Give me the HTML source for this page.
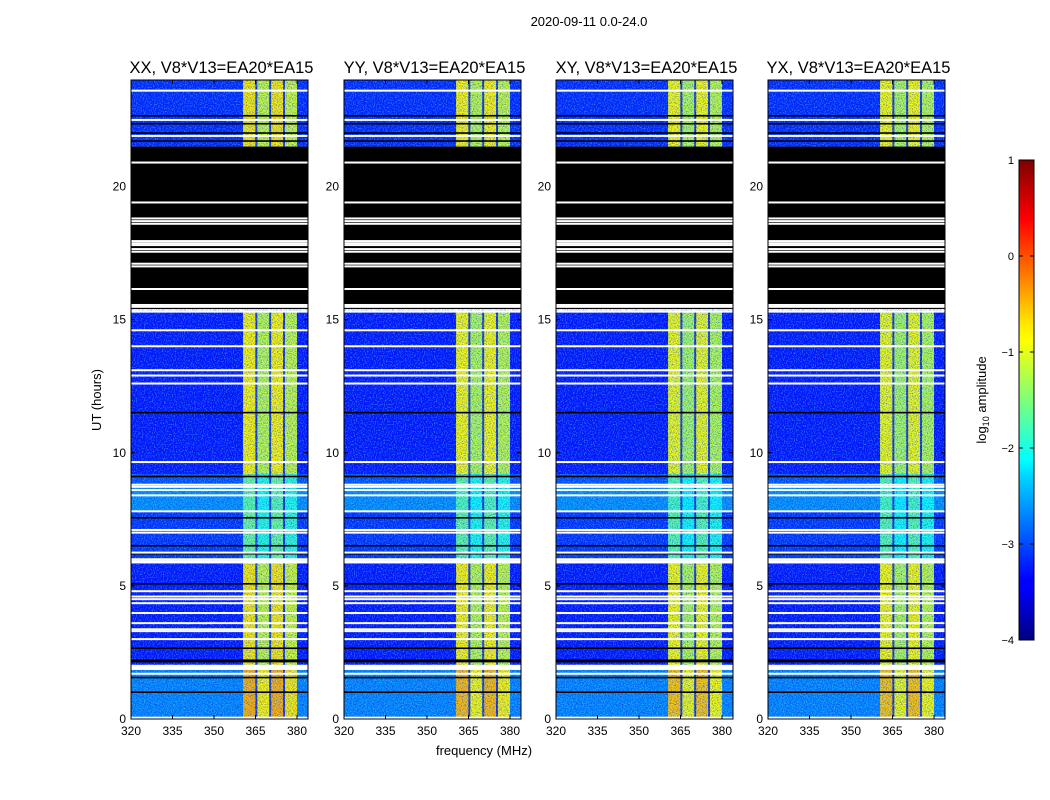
<!DOCTYPE html>
<html><head><meta charset="utf-8">
<style>
html,body{margin:0;padding:0;background:#fff;}
svg{display:block;font-family:"Liberation Sans",sans-serif;}
</style></head>
<body>
<svg id="fig" width="1050" height="800" viewBox="0 0 1050 800">
<defs>
<filter id="speck" x="0" y="0" width="100%" height="100%">
<feTurbulence type="fractalNoise" baseFrequency="0.9 0.7" numOctaves="1" seed="3"/>
<feColorMatrix type="matrix" values="0 0 0 0 0.15  0 0 0 0 0.75  0 0 0 0 1  3.2 0 0 0 -1.5"/>
</filter>
<filter id="dark" x="0" y="0" width="100%" height="100%">
<feTurbulence type="fractalNoise" baseFrequency="0.8 0.9" numOctaves="1" seed="7"/>
<feColorMatrix type="matrix" values="0 0 0 0 0  0 0 0 0 0  0 0 0 0 0.6  3 0 0 0 -1.3"/>
</filter>
<linearGradient id="jet" x1="0" y1="1" x2="0" y2="0">
<stop offset="0" stop-color="#00007f"/><stop offset="0.11" stop-color="#0000ff"/>
<stop offset="0.125" stop-color="#0000ff"/><stop offset="0.34" stop-color="#00d4ff"/>
<stop offset="0.375" stop-color="#00ffff"/><stop offset="0.5" stop-color="#7dff7a"/>
<stop offset="0.625" stop-color="#ffff00"/><stop offset="0.66" stop-color="#ffe600"/>
<stop offset="0.875" stop-color="#ff0000"/><stop offset="1" stop-color="#7f0000"/>
</linearGradient>
</defs>
<text x="589" y="26" font-size="13" text-anchor="middle">2020-09-11 0.0-24.0</text>
<text x="484" y="755" font-size="13" text-anchor="middle">frequency (MHz)</text>
<text transform="translate(101,400) rotate(-90)" font-size="13" text-anchor="middle">UT (hours)</text>
<g id="panels"></g>
<g id="cbar">
<rect x="1019" y="160" width="15" height="480" fill="url(#jet)" stroke="#000" stroke-width="1"/>
<text transform="translate(986,400) rotate(-90)" font-size="13" text-anchor="middle">log<tspan font-size="9" dy="3">10</tspan><tspan dy="-3"> amplitude</tspan></text>
</g>
</svg>
<script>
const panelTitles = ["XX, V8*V13=EA20*EA15","YY, V8*V13=EA20*EA15","XY, V8*V13=EA20*EA15","YX, V8*V13=EA20*EA15"];
const xTicks = [320,335,350,365,380];
const yTicks = [0,5,10,15,20];
const cbTicks = [1,0,-1,-2,-3,-4];
const cbLabels = ["1","0","\u22121","\u22122","\u22123","\u22124"];
const subBands = [[360.5,365.3],[365.3,370.3],[370.3,375.3],[375.3,380]];
const subOffset = [0,-0.35,0,-0.3];
// [startHour, endHour, bandLevel, bgLevel]
const timeSegs = [[0,1.9,-0.6,-2.7],[1.9,5.9,-0.9,-3.25],[5.9,7.8,-1.7,-3.1],[7.8,8.75,-1.8,-2.65],[8.75,9.2,-1.7,-2.95],[9.2,15.3,-0.95,-3.25],[21.5,24,-0.9,-3.15]];
const panelBandBoost = [0.1,0.05,0,0];
const blackBlock = [15.4,21.5];
const whiteRows = [23.6,22.5,21.9,20.9,19.4,18.8,18.7,18.6,17.95,17.87,17.8,17.65,17.55,17.1,17.0,16.15,15.55,15.48,15.3,14.6,14.0,13.1,12.9,12.6,9.65,8.8,8.72,8.6,8.4,7.8,7.1,7.0,6.25,6.0,5.93,5.88,4.8,4.6,4.5,4.35,3.98,3.6,3.37,3.3,3.0,2.0,1.95,1.88,1.7,0.05];
const blackRows = [22.65,22.35,22.0,21.7,11.5,9.1,7.55,6.5,6.2,5.07,2.65,2.2,2.15,1.55,1.0];
const panelX = [131,344,556,768];
const PW=177, Ptop=80, Pbot=719;
const NS="http://www.w3.org/2000/svg";
function yOf(h){return Pbot-(h/24)*(Pbot-Ptop);}
function xOf(x0,f){return x0+(f-320)*2.767;}
function jet(v){const t=Math.max(0,Math.min(1,(v+4)/5));const c=a=>Math.round(255*Math.max(0,Math.min(1,1.5-Math.abs(4*t-a))));return `rgb(${c(3)},${c(2)},${c(1)})`;}
function mk(tag,attrs,parent){const e=document.createElementNS(NS,tag);for(const k in attrs)e.setAttribute(k,attrs[k]);parent.appendChild(e);return e;}
const root=document.getElementById('panels');
panelX.forEach((x0,pi)=>{
  const g=mk('g',{},root);
  
  
  const cid='clip'+pi;
  const cp=mk('clipPath',{id:cid},g);mk('rect',{x:x0,y:Ptop,width:PW,height:Pbot-Ptop},cp);
  const inner=mk('g',{'clip-path':`url(#${cid})`},g);
  timeSegs.forEach(s=>{
    const y1=yOf(s[1]),y0=yOf(s[0]);
    const r=mk('rect',{x:x0,y:y1,width:PW,height:y0-y1,fill:jet(s[3])},inner);
    
    
    subBands.forEach((b,bi)=>{
      const xa=xOf(x0,b[0]),xb=xOf(x0,b[1]);
      const br=mk('rect',{x:xa,y:y1,width:xb-xa,height:y0-y1,fill:jet(s[2]+subOffset[bi]+panelBandBoost[pi])},inner);
      
      
      if(bi>0){mk('rect',{x:xa-1,y:y1,width:2,height:y0-y1,fill:'#1838d8'},inner);}
    });
  });
  mk('rect',{x:x0,y:Ptop,width:PW,height:Pbot-Ptop,filter:'url(#dark)',opacity:0.5},inner);
  mk('rect',{x:x0,y:Ptop,width:PW,height:Pbot-Ptop,filter:'url(#speck)',opacity:0.5},inner);
  const by1=yOf(blackBlock[1]),by0=yOf(blackBlock[0]);
  const bb=mk('rect',{x:x0,y:by1,width:PW,height:by0-by1,fill:'#000'},inner);
  
  
  blackRows.forEach(h=>{const l=mk('rect',{x:x0,y:yOf(h)-1,width:PW,height:1.6,fill:'#000'},inner);
    });
  whiteRows.forEach(h=>{const l=mk('rect',{x:x0,y:yOf(h)-1,width:PW,height:2,fill:'#fff'},inner);
    });
  mk('rect',{x:x0,y:Ptop,width:PW,height:Pbot-Ptop,fill:'none',stroke:'#000','stroke-width':1},g);
  const t=mk('text',{x:x0+PW/2+2,y:Ptop-7,'font-size':16.5,'text-anchor':'middle'},g);
  t.textContent=panelTitles[pi];
  
  
  xTicks.forEach(f=>{const x=xOf(x0,f);
    mk('line',{x1:x,x2:x,y1:Pbot,y2:Pbot-4,stroke:'#000'},g);
    mk('line',{x1:x,x2:x,y1:Ptop,y2:Ptop+4,stroke:'#000'},g);
    const tt=mk('text',{x:x,y:Pbot+16,'font-size':12,'text-anchor':'middle'},g);tt.textContent=f;
    });
  yTicks.forEach(h=>{const y=yOf(h);
    mk('line',{x1:x0,x2:x0+4,y1:y,y2:y,stroke:'#000'},g);
    mk('line',{x1:x0+PW,x2:x0+PW-4,y1:y,y2:y,stroke:'#000'},g);
    const tt=mk('text',{x:x0-5,y:y+4,'font-size':12,'text-anchor':'end'},g);tt.textContent=h;
    });
});
const cb=document.getElementById('cbar');
cbTicks.forEach((v,i)=>{const y=640-(v+4)/5*480;
  mk('line',{x1:1019,x2:1023,y1:y,y2:y,stroke:'#000'},cb);
  mk('line',{x1:1034,x2:1030,y1:y,y2:y,stroke:'#000'},cb);
  const t=mk('text',{x:1014,y:y+4,'font-size':11,'text-anchor':'end'},cb);t.textContent=cbLabels[i];
  });
</script>
</body></html>
